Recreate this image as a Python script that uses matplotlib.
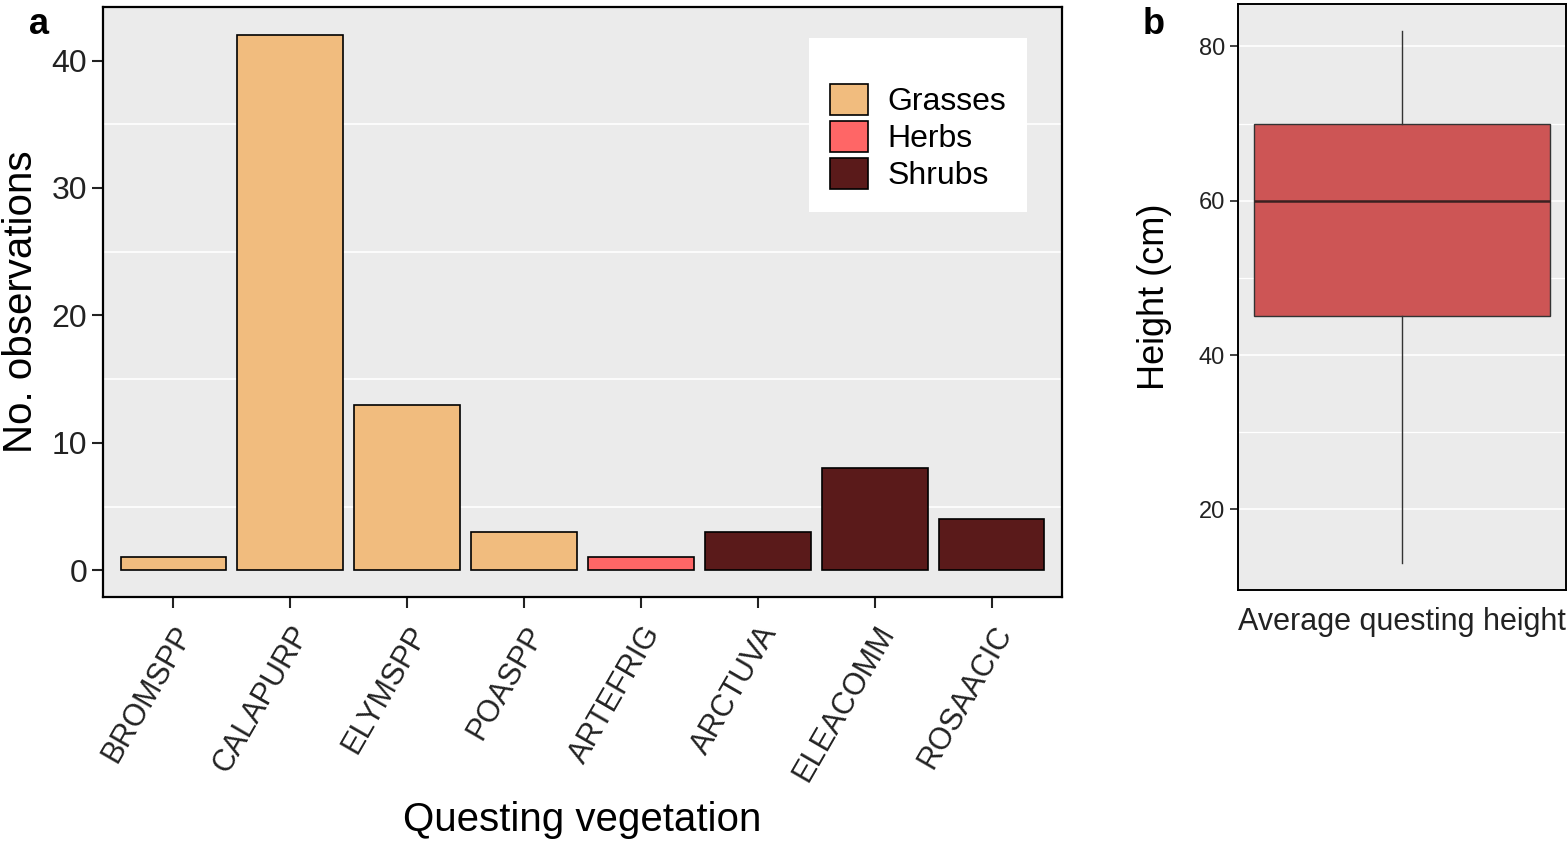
import matplotlib.pyplot as plt
from matplotlib.patches import Patch

plt.rcParams['font.family'] = ['Liberation Sans', 'DejaVu Sans']

# panel a data
plants = ['BROMSPP', 'CALAPURP', 'ELYMSPP', 'POASPP', 'ARTEFRIG', 'ARCTUVA', 'ELEACOMM', 'ROSAACIC']
counts = [1, 42, 13, 3, 1, 3, 8, 4]
groups = ['Grasses', 'Grasses', 'Grasses', 'Grasses', 'Herbs', 'Shrubs', 'Shrubs', 'Shrubs']
group_names = ['Grasses', 'Herbs', 'Shrubs']
group_colors = {'Grasses': '#F1BC7E', 'Herbs': '#FF6666', 'Shrubs': '#5A1A1A'}

# panel b data (box summary of questing height, cm)
height_stats = {'whislo': 13, 'q1': 45, 'med': 60, 'q3': 70, 'whishi': 82}
height_label = 'Average questing height'

W, H = 1567, 842
fig = plt.figure(figsize=(W / 100, H / 100), dpi=100)
panel_bg = '#EBEBEB'
tick_col = '#222222'

# show bar panel
ax = fig.add_axes([103 / W, (H - 597) / H, (1062 - 103) / W, (597 - 7) / H])
ax.set_facecolor(panel_bg)
xs = range(1, len(plants) + 1)
ax.bar(xs, counts, width=0.9, color=[group_colors[g] for g in groups],
       edgecolor='black', linewidth=1.2, zorder=3)
ax.set_xlim(0.4, len(plants) + 0.6)
ax.set_ylim(-2.1, 44.2)
ax.set_yticks([0, 10, 20, 30, 40])
for v in [5, 15, 25, 35]:
    ax.axhline(v, color='white', linewidth=1.2, zorder=1)
ax.set_xticks(list(xs))
ax.set_xticklabels(plants, rotation=60, ha='right', rotation_mode='anchor')
ax.tick_params(axis='both', labelsize=23, colors=tick_col, length=8, width=1.5,
               direction='out')
ax.tick_params(axis='x', labelsize=22, pad=9)
ax.set_xlabel('Questing vegetation', fontsize=29)
ax.xaxis.set_label_coords(0.5, -0.345)
ax.set_ylabel('No. observations', fontsize=29, labelpad=8)
for s in ax.spines.values():
    s.set_linewidth(1.6)
    s.set_color('black')
handles = [Patch(facecolor=group_colors[g], edgecolor='black', linewidth=1.2, label=g)
           for g in group_names]
leg = ax.legend(handles=handles, loc='upper right', bbox_to_anchor=(0.9635, 0.947),
                borderaxespad=0, fontsize=23, frameon=True, fancybox=False,
                framealpha=1, edgecolor='white', borderpad=0.65, handlelength=1.2,
                handleheight=1.1, labelspacing=0.12, handletextpad=0.6,
                title=' ', title_fontsize=16)
leg.get_frame().set_linewidth(0)
fig.text(29 / W, 1 - 25 / H, 'a', fontsize=26, fontweight='bold', va='center', ha='left')

# show box panel
bx = fig.add_axes([1238 / W, (H - 590) / H, (1566 - 1238) / W, (590 - 4) / H])
bx.set_facecolor(panel_bg)
for v in [20, 30, 40, 50, 60, 70, 80]:
    bx.axhline(v, color='white', linewidth=1.2 if v % 20 == 0 else 0.9, zorder=1)
stats = dict(height_stats, label=height_label)
bx.bxp([stats], positions=[0.5], widths=0.9, showfliers=False, patch_artist=True,
       boxprops=dict(facecolor='#CD5555', edgecolor='#333333', linewidth=1.0),
       medianprops=dict(color='#3A2020', linewidth=1.8),
       whiskerprops=dict(color='#333333', linewidth=1.0),
       capprops=dict(linewidth=0), zorder=3)
bx.set_xlim(0, 1)
bx.set_ylim(9.55, 85.5)
bx.set_yticks([20, 40, 60, 80])
bx.set_xticks([0.5])
bx.set_xticklabels([height_label])
bx.tick_params(axis='y', labelsize=17, colors=tick_col, length=6, width=1.2)
bx.tick_params(axis='x', labelsize=22, colors=tick_col, length=0, pad=12)
bx.set_ylabel('Height (cm)', fontsize=26)
bx.yaxis.set_label_coords(-0.20, 0.5)
for s in bx.spines.values():
    s.set_linewidth(1.4)
    s.set_color('black')
fig.text(1143 / W, 1 - 25 / H, 'b', fontsize=26, fontweight='bold', va='center', ha='left')

fig.savefig('out.png', dpi=100, facecolor='white')
